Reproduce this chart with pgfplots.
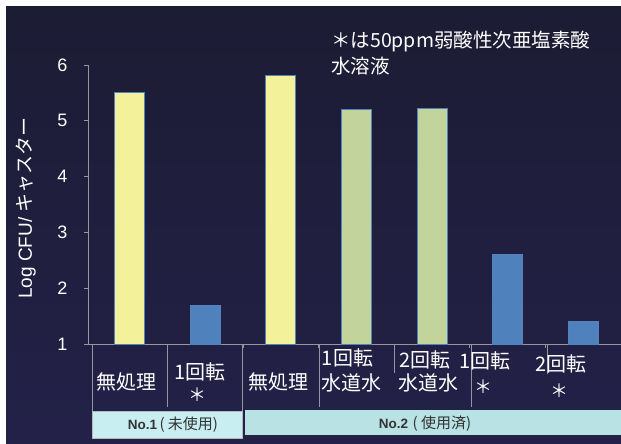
\documentclass[border=0pt]{standalone}
\usepackage{pgfplots}
\pgfplotsset{compat=1.18}
\usepackage{fontspec}
\setmainfont{Liberation Sans}
\newfontfamily\jp{Noto Sans CJK JP}
\definecolor{bgtop}{RGB}{28,28,52}
\definecolor{bgbot}{RGB}{35,33,72}
\definecolor{baryel}{RGB}{243,241,154}
\definecolor{bargrn}{RGB}{194,212,155}
\definecolor{barblu}{RGB}{79,129,189}
\definecolor{baredge}{RGB}{84,130,190}
\definecolor{axgray}{RGB}{150,150,160}
\definecolor{boxA}{RGB}{200,238,242}
\definecolor{boxB}{RGB}{184,226,228}
\begin{document}
\begin{tikzpicture}
\useasboundingbox (0pt,0pt) rectangle (621pt,-444pt);
\fill[white] (0pt,0pt) rectangle (621pt,-444pt);
\shade[top color=bgtop, bottom color=bgbot] (6pt,-7pt) rectangle (621pt,-444pt);
\begin{axis}[
  at={(88pt,-344pt)}, anchor=south west,
  width=533pt, height=279pt, scale only axis,
  xmin=-0.553, xmax=6.5, ymin=1, ymax=6,
  axis y line*=left, axis x line*=bottom,
  axis line style={draw=axgray, line width=0.8pt},
  ytick={1,2,3,4,5,6},
  xtick={-0.5,0.5,1.5,2.5,3.5,4.5,5.5,6.5}, xticklabels={},
  tick style={draw=axgray, line width=0.8pt}, tick align=outside,
  major tick length=4pt,
  yticklabel style={font=\fontsize{18}{18}\selectfont, text=white, xshift=-13pt},
  /pgf/number format/assume math mode=true,
  ylabel={Log CFU/ {\jp キャスター}},
  ylabel style={at={(axis description cs:-0.1163,0.4875)}, anchor=center,
    font=\fontsize{19}{19}\selectfont, text=white},
  ybar, bar width=30pt,
]
\addplot[fill=baryel, draw=baredge, line width=1pt, bar shift=0pt] coordinates {(0,5.51) (2,5.82)};
\addplot[fill=bargrn, draw=baredge, line width=1pt, bar shift=0pt] coordinates {(3,5.21) (4,5.22)};
\addplot[fill=barblu, draw=baredge, line width=1pt, bar shift=0pt] coordinates {(1,1.69) (5,2.61) (6,1.41)};
\end{axis}
% table dividers
\begin{scope}[axgray, line width=0.8pt]
\draw (92pt,-345pt) -- (92pt,-411pt);
\draw (167pt,-345pt) -- (167pt,-407pt);
\draw (242pt,-345pt) -- (242pt,-411pt);
\draw (319pt,-345pt) -- (319pt,-407pt);
\draw (394pt,-345pt) -- (394pt,-373pt);
\draw (471pt,-345pt) -- (471pt,-407pt);
\draw (547pt,-345pt) -- (547pt,-374pt);
\end{scope}
\fill[boxA] (92pt,-411pt) rectangle (242pt,-438pt);
\draw[axgray!70, line width=0.6pt] (92pt,-411pt) rectangle (242pt,-438pt);
\fill[boxB] (245pt,-410pt) rectangle (621pt,-435pt);
\node[text=black!80, font=\fontsize{13.5}{13.5}\selectfont] at (173pt,-425pt) {\textbf{No.1}\,{\jp\fontsize{15}{15}\selectfont ( 未使用)}};
\node[text=black!80, font=\fontsize{13.5}{13.5}\selectfont] at (425pt,-424pt) {\textbf{No.2}\,\,{\jp\fontsize{15}{15}\selectfont ( 使用済)}};
% category labels
\begin{scope}[every node/.style={text=white, inner sep=0pt, font=\jp\fontsize{20}{20}\selectfont}]
\node at (126pt,-381.5pt) {無処理};
\node at (200pt,-371.5pt) {1回転};
\node[font=\jp\fontsize{18}{18}\selectfont] at (197pt,-395pt) {＊};
\node at (278.5pt,-382pt) {無処理};
\node at (347.5pt,-358pt) {1回転};
\node at (351.5pt,-383pt) {水道水};
\node at (425pt,-360pt) {2回転};
\node at (428pt,-383pt) {水道水};
\node at (485pt,-361pt) {1回転};
\node[font=\jp\fontsize{18}{18}\selectfont] at (483pt,-387pt) {＊};
\node at (561pt,-364pt) {2回転};
\node[font=\jp\fontsize{18}{18}\selectfont] at (559pt,-391pt) {＊};
\end{scope}
\node[anchor=north west, align=left, text=white, inner sep=0pt,
  font=\jp\fontsize{19.5}{26}\selectfont] at (331pt,-31pt) {＊は50ppm弱酸性次亜塩素酸\\水溶液};
\end{tikzpicture}
\end{document}
